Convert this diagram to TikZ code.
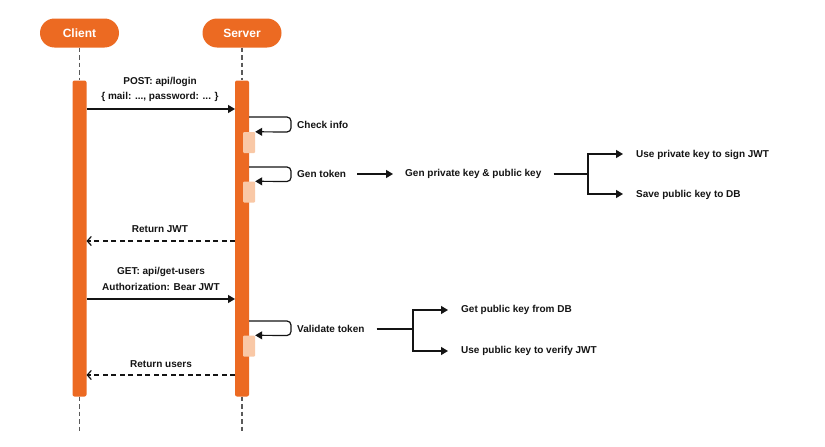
\documentclass[tikz,border=0pt]{standalone}
\usepackage{fontspec}
\setmainfont{Liberation Sans}
\usetikzlibrary{arrows.meta}
\definecolor{orng}{HTML}{EC6A22}
\definecolor{peach}{HTML}{F9C8A6}
\definecolor{ink}{HTML}{141414}
\definecolor{lgray}{HTML}{5A5A5A}
\begin{document}
\begin{tikzpicture}[x=1pt,y=-1pt,
  pill/.style={fill=orng,rounded corners=14.5pt,minimum width=79pt,minimum height=29pt,text=white,font=\bfseries\fontsize{12}{14}\selectfont,inner sep=0pt},
  lifeline/.style={draw=lgray, line width=1.5pt, dash pattern=on 4.5pt off 3pt},
  barbox/.style={fill=orng, rounded corners=2pt, minimum width=14pt, inner sep=0pt},
  actbox/.style={fill=peach, rounded corners=1pt, minimum width=12pt, minimum height=21pt, inner sep=0pt},
  lbl/.style={font=\bfseries\fontsize{10}{12}\selectfont, text=ink, inner sep=0pt},
  msg/.style={draw=ink, line width=1.2pt, -{Triangle[length=7pt,width=8pt]}},
  ret/.style={draw=ink, line width=1.2pt, dash pattern=on 5pt off 3.5pt, -{Straight Barb[length=4pt,width=9pt]}},
  selfloop/.style={draw=ink, line width=1.2pt, rounded corners=4pt, -{Triangle[length=7pt,width=8pt]}},
  plain/.style={draw=ink, line width=1.2pt},
]
\useasboundingbox[fill=white] (0,0) rectangle (825,447);

% participants
\node[pill] (client) at (79.5,33) {Client};
\node[pill] (server) at (242,33) {Server};

% activation bars
\node[barbox, minimum height=316pt] (cbar) at (79.5,238.5) {};
\node[barbox, minimum height=316pt] (sbar) at (242,238.5) {};

% lifelines
\coordinate (cend) at (79.5,431);
\coordinate (send) at (242,431);
\draw[lifeline] (client.south) -- (cbar.north);
\draw[lifeline] (server.south) -- (sbar.north);
\draw[lifeline] (cbar.south) -- (cend);
\draw[lifeline] (sbar.south) -- (send);

% nested activations
\node[actbox] (a1) at (249,142.5) {};
\node[actbox] (a2) at (249,192) {};
\node[actbox] (a3) at (249,346) {};

% message 1
\node[lbl] (m1a) at (160,82) {POST: api/login};
\node[lbl] (m1b) at (160,97) {\{ mail: ..., password: ... \}};
\coordinate (m1s) at (86.5,109);
\coordinate (m1e) at (235,109);
\draw[msg] (m1s) -- (m1e);

% check info
\coordinate (l1s) at (249,117);
\coordinate (l1c) at (291,117);
\coordinate (l1d) at (291,132);
\draw[selfloop] (l1s) -- (l1c) -- (l1d) -- (a1.north east);
\node[lbl, anchor=west] (check) at (297,125) {Check info};

% gen token
\coordinate (l2s) at (249,167);
\coordinate (l2c) at (291,167);
\coordinate (l2d) at (291,181.5);
\draw[selfloop] (l2s) -- (l2c) -- (l2d) -- (a2.north east);
\node[lbl, anchor=west] (gen) at (297,174) {Gen token};
\node[lbl, anchor=west] (genkey) at (405,174) {Gen private key \& public key};
\draw[msg] ([xshift=11pt]gen.east) -- ([xshift=-12pt]genkey.west);

\coordinate (b1) at (588,174);
\coordinate (b1t) at (588,154);
\coordinate (b1b) at (588,194);
\node[lbl, anchor=west] (sign) at (636,155) {Use private key to sign JWT};
\node[lbl, anchor=west] (save) at (636,195) {Save public key to DB};
\draw[plain] ([xshift=12pt]genkey.east) -- (b1);
\draw[msg] (b1) -- (b1t) -- ([xshift=-13pt]sign.west |- b1t);
\draw[msg] (b1) -- (b1b) -- ([xshift=-13pt]save.west |- b1b);

% return JWT
\node[lbl] (r1) at (160,229) {Return JWT};
\coordinate (r1s) at (235,241);
\coordinate (r1e) at (86.5,241);
\draw[ret] (r1s) -- (r1e);

% GET
\node[lbl] (m2a) at (161,272) {GET: api/get-users};
\node[lbl] (m2b) at (161,287) {Authorization: Bear JWT};
\coordinate (m2s) at (86.5,299);
\coordinate (m2e) at (235,299);
\draw[msg] (m2s) -- (m2e);

% validate token
\coordinate (l3s) at (249,321);
\coordinate (l3c) at (291,321);
\coordinate (l3d) at (291,335.5);
\draw[selfloop] (l3s) -- (l3c) -- (l3d) -- (a3.north east);
\node[lbl, anchor=west] (valid) at (297,329) {Validate token};

\coordinate (b2) at (413,329);
\coordinate (b2t) at (413,310);
\coordinate (b2b) at (413,351);
\node[lbl, anchor=west] (getpk) at (461,310) {Get public key from DB};
\node[lbl, anchor=west] (usepk) at (461,351) {Use public key to verify JWT};
\draw[plain] ([xshift=12pt]valid.east) -- (b2);
\draw[msg] (b2) -- (b2t) -- ([xshift=-13pt]getpk.west |- b2t);
\draw[msg] (b2) -- (b2b) -- ([xshift=-13pt]usepk.west |- b2b);

% return users
\node[lbl] (r2) at (161,364) {Return users};
\coordinate (r2s) at (235,375);
\coordinate (r2e) at (86.5,375);
\draw[ret] (r2s) -- (r2e);
\end{tikzpicture}
\end{document}
